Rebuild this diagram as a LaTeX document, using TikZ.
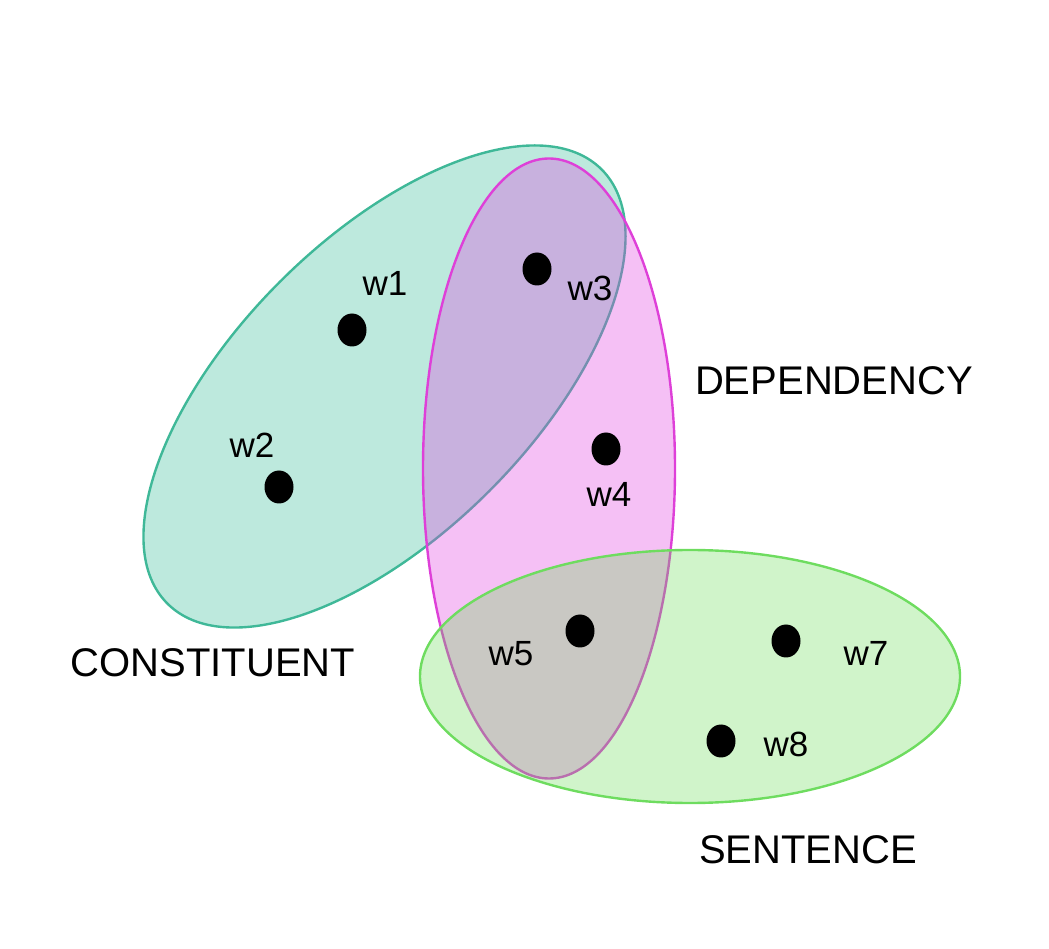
\documentclass[tikz,border=0pt]{standalone}
\usepackage{fontspec}
\setmainfont{Liberation Sans}
\usetikzlibrary{shapes.geometric}
\definecolor{tealfill}{RGB}{66,192,158}
\definecolor{tealline}{RGB}{63,184,152}
\definecolor{pinkfill}{RGB}{224,64,224}
\definecolor{pinkline}{RGB}{222,64,216}
\definecolor{greenfill}{RGB}{100,220,80}
\definecolor{greenline}{RGB}{110,220,95}
\tikzset{
  setshape/.style={ellipse, inner sep=0pt, line width=2.4pt},
  worddot/.style={ellipse, fill=black, inner sep=0pt, minimum width=29pt, minimum height=33pt},
  wordlabel/.style={inner sep=0pt, font=\fontsize{35}{42}\selectfont},
  setlabel/.style={inner sep=0pt, font=\fontsize{40}{48}\selectfont},
}
\begin{document}
\begin{tikzpicture}[x=1pt,y=1pt]
\useasboundingbox (0,0) rectangle (1049,948);
% sets
\node[setshape, draw=tealline, fill=tealfill, fill opacity=0.35, draw opacity=1,
      minimum width=614pt, minimum height=296pt, rotate=45] (constituent) at (384.5,561.5) {};
\node[setshape, draw=pinkline, fill=pinkfill, fill opacity=0.33, draw opacity=1,
      minimum width=252pt, minimum height=620pt] (dependency) at (549,479.5) {};
\node[setshape, draw=greenline, fill=greenfill, fill opacity=0.30, draw opacity=1,
      minimum width=540pt, minimum height=253pt] (sentence) at (690,271.5) {};
% words
\node[worddot] (d1) at (352,618) {};
\node[worddot] (d2) at (279,461) {};
\node[worddot] (d3) at (537,679) {};
\node[worddot] (d4) at (606,499) {};
\node[worddot] (d5) at (580,317) {};
\node[worddot] (d7) at (786,307) {};
\node[worddot] (d8) at (721,207) {};
\node[wordlabel] (l1) at (385,665) {w1};
\node[wordlabel] (l2) at (252,503) {w2};
\node[wordlabel] (l3) at (590,660) {w3};
\node[wordlabel] (l4) at (609,454) {w4};
\node[wordlabel] (l5) at (511,294) {w5};
\node[wordlabel] (l7) at (866,295) {w7};
\node[wordlabel] (l8) at (786,204) {w8};
% set names
\node[setlabel] (tc) at (213,285) {CONSTITUENT};
\node[setlabel] (td) at (834,567) {DEPENDENCY};
\node[setlabel] (ts) at (808,98) {SENTENCE};
\end{tikzpicture}
\end{document}
